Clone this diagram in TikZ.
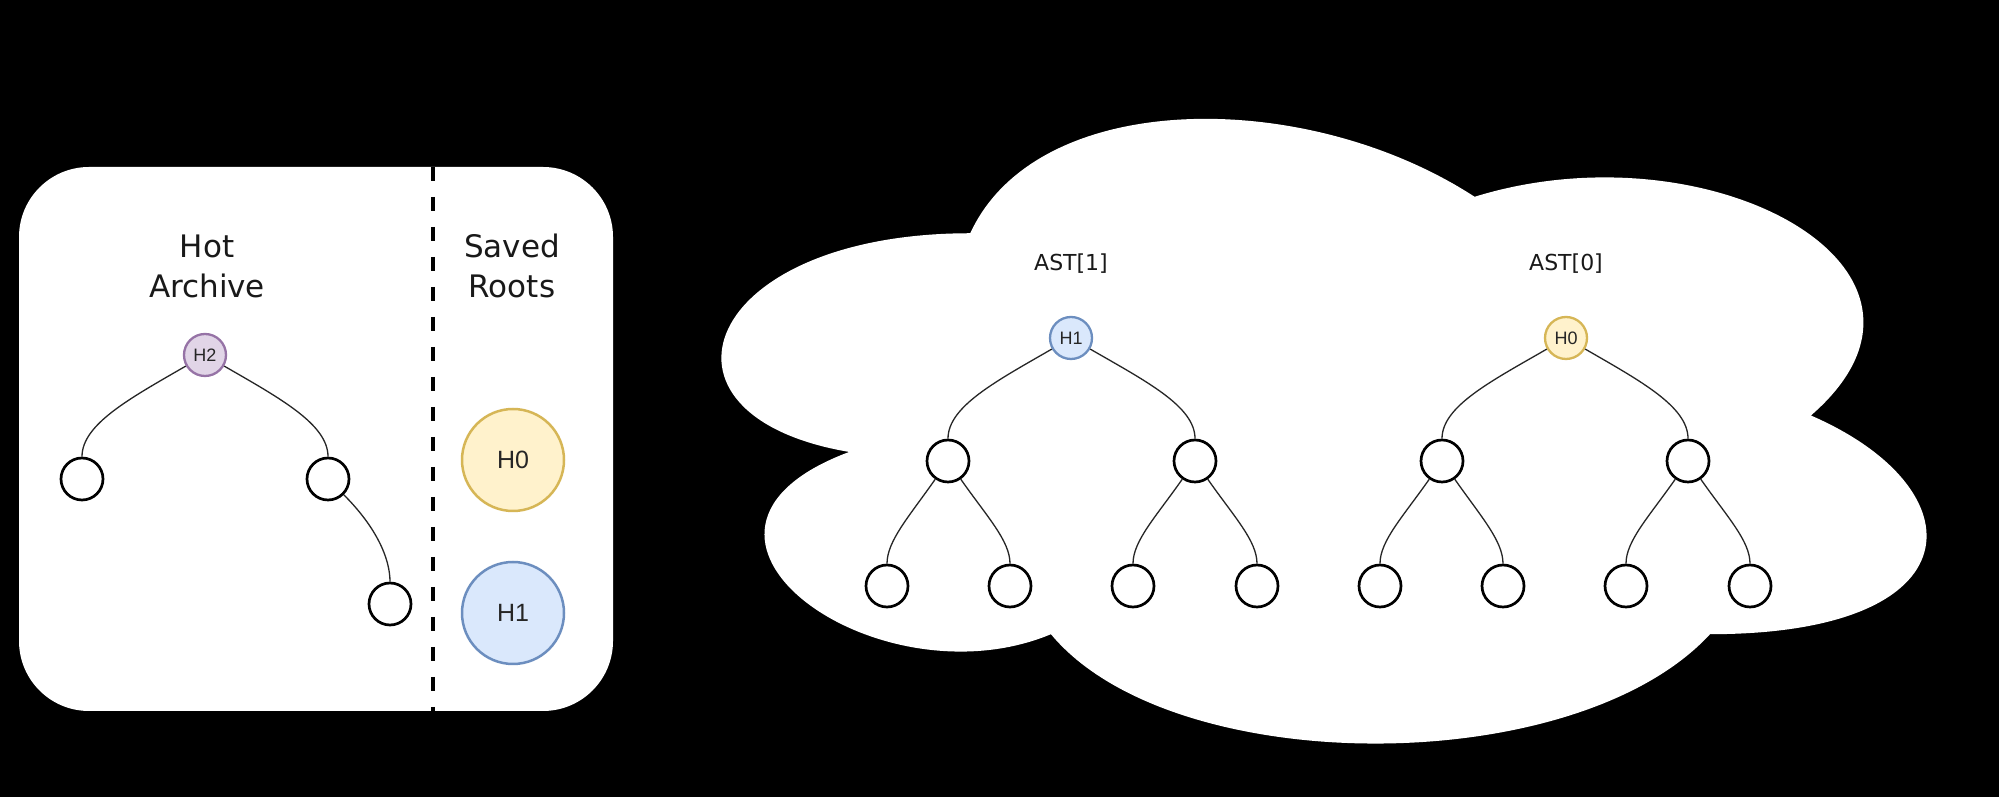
\documentclass[tikz,border=0pt]{standalone}
\usepackage{fontspec}
\setmainfont{DejaVu Sans}
\newfontfamily\labfont{Liberation Sans}
\definecolor{purpfill}{HTML}{E1D5E7}
\definecolor{purpline}{HTML}{9673A6}
\definecolor{bluefill}{HTML}{DAE8FC}
\definecolor{blueline}{HTML}{6C8EBF}
\definecolor{yelfill}{HTML}{FFF2CC}
\definecolor{yelline}{HTML}{D6B656}
\tikzset{
  leaf/.style={circle, draw=black, line width=2.7pt, fill=white, minimum size=42pt, inner sep=0pt},
  sroot/.style={circle, line width=2.3pt, minimum size=42pt, inner sep=0pt, text=black!85,
    font=\labfont\fontsize{18}{18}\selectfont},
  broot/.style={circle, line width=2.5pt, minimum size=102pt, inner sep=0pt, text=black!85,
    font=\labfont\fontsize{25}{25}\selectfont},
  purp/.style={fill=purpfill, draw=purpline},
  blu/.style={fill=bluefill, draw=blueline},
  yel/.style={fill=yelfill, draw=yelline},
  link/.style={line width=1.3pt, draw=black!85, out looseness=1.2, in looseness=0.6},
  header/.style={align=center, text=black!90, font=\fontsize{31}{40}\selectfont},
  astcap/.style={text=black!90, font=\fontsize{22}{22}\selectfont},
  dashline/.style={line width=3.5pt, dash pattern=on 14pt off 16pt}
}
\begin{document}
\begin{tikzpicture}[x=1pt,y=1pt]
\fill[black] (0,0) rectangle (1999,797);
\useasboundingbox (0,0) rectangle (1999,797);

% left panel
\fill[white, rounded corners=70pt] (19,86) rectangle (613,630);
\draw[dashline] (433,630) -- (433,86);

% cloud
\fill[white] (970.25,563.75)
  .. controls (701.25,563.75) and (634,381.5) .. (849.2,345.05)
  .. controls (634,264.86) and (876.1,89.9) .. (1050.95,162.8)
  .. controls (1172,17) and (1575.5,17) .. (1710,162.8)
  .. controls (1979,162.8) and (1979,308.6) .. (1810.9,381.5)
  .. controls (1979,527.3) and (1710,673.1) .. (1474.6,600.2)
  .. controls (1306.5,709.55) and (1037.5,709.55) .. (970.25,563.75) -- cycle;

% headers
\node[header] (hot) at (207,531) {Hot\\Archive};
\node[header] (saved) at (512,531) {Saved\\Roots};

% hot archive tree
\node[sroot, purp] (h2) at (205,442) {H2};
\node[leaf] (a) at (82,318) {};
\node[leaf] (b) at (328,318) {};
\node[leaf] (c) at (390,193) {};
\draw[link] (h2) to[out=-150,in=90] (a);
\draw[link] (h2) to[out=-30,in=90] (b);
\draw[link] (b) to[out=-45,in=90] (c);

% saved roots
\node[broot, yel] (s0) at (513,337) {H0};
\node[broot, blu] (s1) at (513,184) {H1};

% AST[1]
\node[astcap] (ast1) at (1071,533) {AST[1]};
\node[sroot, blu] (r1) at (1071,459) {H1};
\node[leaf] (r1l) at (948,336) {};
\node[leaf] (r1r) at (1195,336) {};
\node[leaf] (r1ll) at (887,211) {};
\node[leaf] (r1lr) at (1010,211) {};
\node[leaf] (r1rl) at (1133,211) {};
\node[leaf] (r1rr) at (1257,211) {};
\draw[link] (r1) to[out=-150,in=90] (r1l);
\draw[link] (r1) to[out=-30,in=90] (r1r);
\draw[link] (r1l) to[out=-125,in=90] (r1ll);
\draw[link] (r1l) to[out=-55,in=90] (r1lr);
\draw[link] (r1r) to[out=-125,in=90] (r1rl);
\draw[link] (r1r) to[out=-55,in=90] (r1rr);

% AST[0]
\node[astcap] (ast0) at (1566,533) {AST[0]};
\node[sroot, yel] (r0) at (1566,459) {H0};
\node[leaf] (r0l) at (1442,336) {};
\node[leaf] (r0r) at (1688,336) {};
\node[leaf] (r0ll) at (1380,211) {};
\node[leaf] (r0lr) at (1503,211) {};
\node[leaf] (r0rl) at (1626,211) {};
\node[leaf] (r0rr) at (1750,211) {};
\draw[link] (r0) to[out=-150,in=90] (r0l);
\draw[link] (r0) to[out=-30,in=90] (r0r);
\draw[link] (r0l) to[out=-125,in=90] (r0ll);
\draw[link] (r0l) to[out=-55,in=90] (r0lr);
\draw[link] (r0r) to[out=-125,in=90] (r0rl);
\draw[link] (r0r) to[out=-55,in=90] (r0rr);
\end{tikzpicture}
\end{document}
